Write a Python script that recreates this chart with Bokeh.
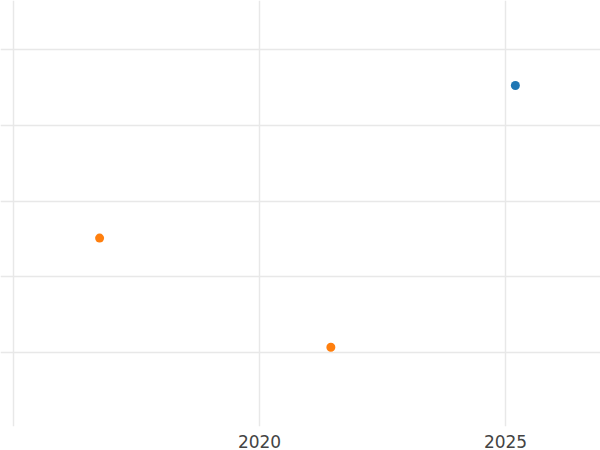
from bokeh.plotting import figure
from bokeh.models import FixedTicker, Range1d
from bokeh.embed import file_html
from bokeh.resources import INLINE

# Data
blue_x = [2025.2]
blue_y = [70.5]
orange_x = [2016.75, 2021.45]
orange_y = [30.2, 1.4]

x_ticks = [2015, 2020, 2025]
y_ticks = [0, 20, 40, 60, 80]

p = figure(width=600, height=450, output_backend="svg", toolbar_location=None,
           x_range=Range1d(2014.736, 2026.93), y_range=Range1d(-19.54, 92.94),
           min_border_left=0, min_border_right=0, min_border_top=0, min_border_bottom=0)

p.scatter(blue_x, blue_y, size=9, color="#1f77b4", line_color=None)
p.scatter(orange_x, orange_y, size=9, color="#ff7f0e", line_color=None)

p.outline_line_color = None
p.background_fill_color = "white"
p.border_fill_color = "white"

p.yaxis.visible = False
p.xaxis.ticker = FixedTicker(ticks=x_ticks)
p.xaxis.major_label_overrides = {2015: ""}
p.xaxis.axis_line_color = None
p.xaxis.major_tick_line_color = None
p.xaxis.minor_tick_line_color = None
p.xaxis.major_tick_out = 0
p.xaxis.major_tick_in = 0
p.xaxis.major_label_standoff = 8
p.xaxis.major_label_text_font = "DejaVu Sans"
p.xaxis.major_label_text_font_size = "17px"
p.xaxis.major_label_text_color = "#444444"

p.ygrid.ticker = FixedTicker(ticks=y_ticks)
p.xgrid.grid_line_color = "#e8e8e8"
p.ygrid.grid_line_color = "#e8e8e8"
p.xgrid.grid_line_width = 1.5
p.ygrid.grid_line_width = 1.5

template = """
{% block preamble %}<style>html, body { margin: 0; padding: 0; }</style>{% endblock %}
"""

open("out.html", "w").write(file_html(p, INLINE, template=template))
